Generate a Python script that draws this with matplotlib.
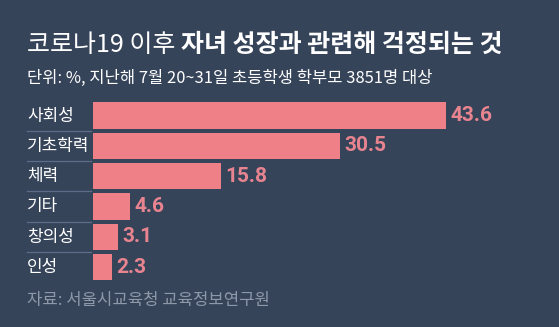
import matplotlib.pyplot as plt
import matplotlib.transforms as mtransforms

plt.rcParams['font.family'] = ['Noto Sans CJK KR', 'DejaVu Sans']

# data
categories = ['사회성', '기초학력', '체력', '기타', '창의성', '인성']
values = [43.6, 30.5, 15.8, 4.6, 3.1, 2.3]

title_light = '코로나19 이후 '
title_bold = '자녀 성장과 관련해 걱정되는 것'
subtitle = '단위: %, 지난해 7월 20~31일 초등학생 학부모 3851명 대상'
source = '자료: 서울시교육청 교육정보연구원'

bg = '#36445a'
bar_color = '#f08088'
value_color = '#e8848f'
W, H = 559, 327

fig = plt.figure(figsize=(W / 100, H / 100), dpi=100, facecolor=bg)

# axes for the bars: left edge at x=93px, rows 30.3px apart
ax_left, ax_top, ax_bottom = 93, 100.4, 282.2
ax = fig.add_axes([ax_left / W, 1 - ax_bottom / H, (W - ax_left) / W, (ax_bottom - ax_top) / H])
ax.set_facecolor(bg)
px_per_unit = 8.09
ax.set_xlim(0, (W - ax_left) / px_per_unit)
ax.set_ylim(len(categories) - 0.5, -0.5)
ax.axis('off')

ypos = range(len(categories))
ax.barh(ypos, values, height=0.87, color=bar_color)
for y, v in zip(ypos, values):
    ax.text(v + 0.55, y, f'{v}', va='center', ha='left', color=value_color,
            fontsize=15, fontweight='bold', family=['Roboto', 'DejaVu Sans'])

# category labels and separators, x in figure coords
trans = mtransforms.blended_transform_factory(fig.transFigure, ax.transData)
for y, c in zip(ypos, categories):
    ax.text(27 / W, y, c, transform=trans, va='center', ha='left',
            color='white', fontsize=12.2, clip_on=False)
for y in range(len(categories) - 1):
    ax.plot([27 / W, 91 / W], [y + 0.5, y + 0.5], transform=trans,
            color='#5c6d88', lw=0.9, clip_on=False)

# titles
t = fig.text(27 / W, 1 - 45 / H, title_light, color='white', fontsize=18,
             fontweight='light', va='center', ha='left')
fig.canvas.draw()
bb = t.get_window_extent()
fig.text(bb.x1 / W, 1 - 45 / H, title_bold, color='white', fontsize=18,
         fontweight='bold', va='center', ha='left')
fig.text(27 / W, 1 - 78 / H, subtitle, color='white', fontsize=11.9,
         va='center', ha='left')
fig.text(27 / W, 1 - 300 / H, source, color='#8d98a8', fontsize=12,
         va='center', ha='left')

fig.savefig('out.png', dpi=100, facecolor=bg)
